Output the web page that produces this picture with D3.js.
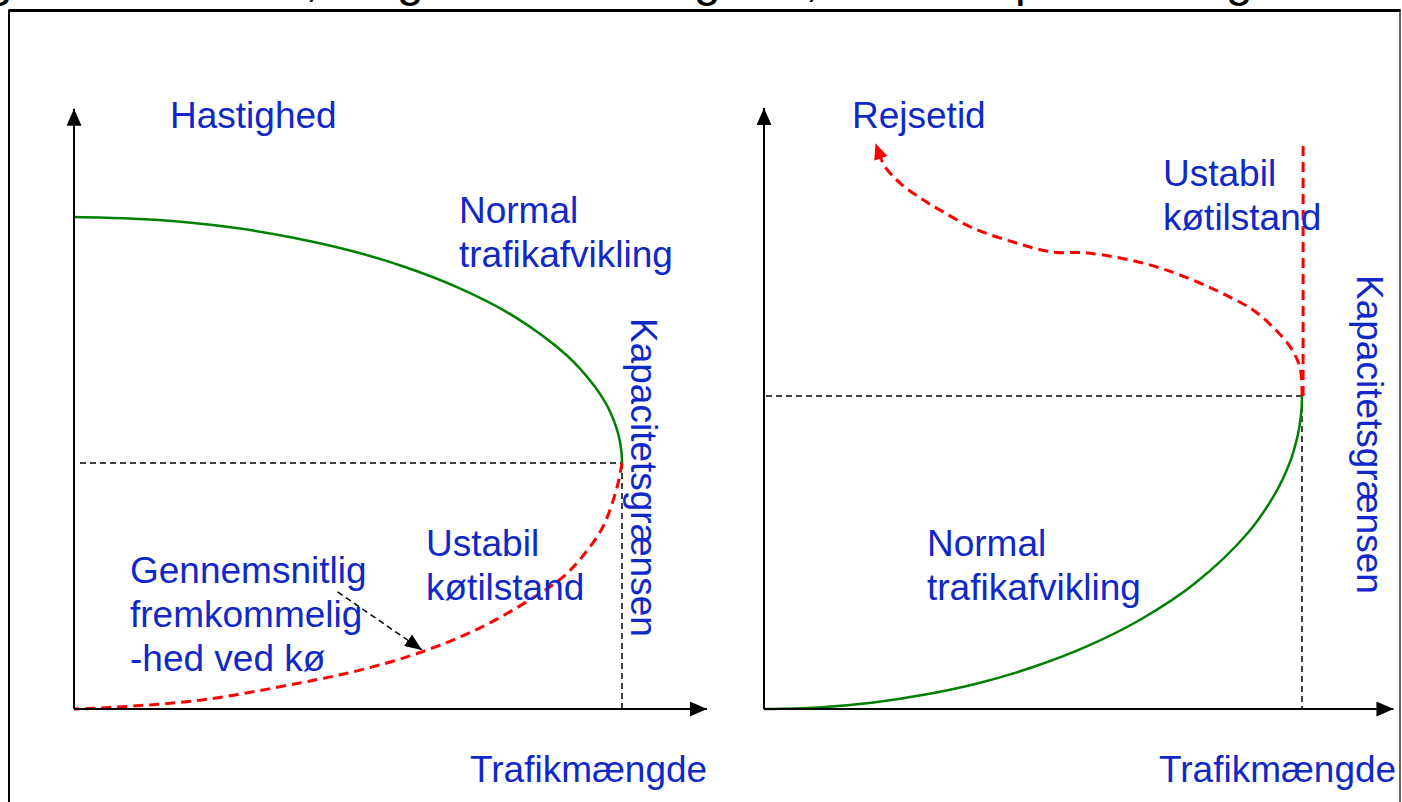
<!DOCTYPE html>
<html><head><meta charset="utf-8">
<script src="https://cdn.jsdelivr.net/npm/d3@7"></script>
<style>html,body{margin:0;padding:0;background:#fff;overflow:hidden}</style>
</head><body>
<script>
// ---------- DATA ----------
// Left panel: speed (Hastighed) vs traffic volume (Trafikmængde); capacity at x=100
const leftNormal = [[0,100],[10,99.7],[20,99],[30,97.7],[40,95.8],[50,93.3],[60,90],[70,85.7],[80,80],[90,71.8],[95,65.6],[97,62.2],[98,60],[99,57.1],[99.5,55],[99.9,52.2],[100,50]];
const leftQueue = [[100,50],[99.1,45.1],[96.5,37],[92.7,30.9],[89.2,26.8],[83.2,22.2],[74.1,16.5],[63.5,11.6],[52.2,7.9],[41.2,5.3],[23,1.8],[4.7,0.2],[0,0]];
const leftCapacity = [100, 50];
const leftAxisMax = [115.5, 122];
const leftAnnotation = [[48.1, 23.8],[63.5, 12]];
// Right panel: travel time (Rejsetid) vs traffic volume
const rightNormal = [[0,0],[10,0.5],[20,2],[30,4.6],[40,8.3],[50,13.4],[60,20],[70,28.6],[80,40],[90,56.4],[95,68.8],[97,75.7],[98,80],[99,85.9],[99.5,90],[99.9,95.5],[100,100]];
const rightUnstable = [[100,100],[100,101.9],[99.6,109.3],[97.8,115.7],[94.6,122],[90.9,127.5],[86.6,131.6],[81,136.1],[71.7,141.9],[60.2,145.7],[53.7,146],[46.3,149.2],[38.8,153.7],[32.7,159.4],[29,163.3],[25.3,168],[22.5,173.2],[21.6,176.5]];
const rightVertical = [[100.2,100],[100.2,181]];
const rightCapacity = [100, 100];
const rightAxisMax = [117, 192];
// Texts
const titleGlyphs = ["g", ",", "g", "g", ",", "p", "g"];
const labelAxisY = ["Hastighed", "Rejsetid"];
const labelAxisX = "Trafikmængde";
const labelNormal = ["Normal", "trafikafvikling"];
const labelUnstable = ["Ustabil", "køtilstand"];
const labelAverage = ["Gennemsnitlig", "fremkommelig", "-hed ved kø"];
const labelCapacity = "Kapacitetsgrænsen";

// ---------- DRAW ----------
const W = 1402, H = 802;
const BLUE = "#1028c8", GREEN = "#008000", RED = "#ff0000";
const FS = 37;
const svg = d3.select("body").append("svg").attr("width", W).attr("height", H)
  .style("font-family", "'Liberation Sans', Arial, sans-serif");

const defs = svg.append("defs");
function marker(id, color, len, wid, ref) {
  defs.append("marker").attr("id", id).attr("viewBox", `0 0 ${len} ${wid}`)
    .attr("refX", ref).attr("refY", wid/2).attr("markerWidth", len).attr("markerHeight", wid)
    .attr("markerUnits", "userSpaceOnUse").attr("orient", "auto")
    .append("path").attr("d", `M0,0L${len},${wid/2}L0,${wid}Z`).attr("fill", color);
}
marker("axArrow", "#000", 17, 15, 17);
marker("blkArrow", "#000", 17, 14, 17);
marker("redArrow", RED, 16, 14, 2);

// title fragments (clipped at top, as in the reference)
const titleX = [-14, 305, 397, 694, 805, 1015, 1226];
svg.append("g").selectAll("text").data(titleGlyphs).join("text")
  .attr("x", (d,i) => titleX[i]).attr("y", -4)
  .attr("font-size", 48).attr("fill", "#000").text(d => d);

// frame
svg.append("rect").attr("x", 9).attr("y", 10.5).attr("width", 1391).attr("height", 820)
  .attr("fill", "none").attr("stroke", "#000").attr("stroke-width", 2);
svg.append("line").attr("x1", 1400).attr("x2", 1400).attr("y1", 11).attr("y2", H)
  .attr("stroke", "#888").attr("stroke-width", 1.5);
svg.append("line").attr("x1", 9).attr("x2", 1400).attr("y1", 10.5).attr("y2", 10.5)
  .attr("stroke", "#000").attr("stroke-width", 3);

function panel(cfg) {
  const x = d3.scaleLinear().domain([0, 100]).range(cfg.xr);
  const y = d3.scaleLinear().domain([0, cfg.ymaxRef]).range(cfg.yr);
  const g = svg.append("g");
  const line = d3.line().x(d => x(d[0])).y(d => y(d[1])).curve(d3.curveCatmullRom.alpha(0.5));
  g.append("line").attr("x1", x(0) + cfg.hStart).attr("x2", x(cfg.cap[0]))
    .attr("y1", y(cfg.cap[1])).attr("y2", y(cfg.cap[1]))
    .attr("stroke", "#000").attr("stroke-width", 1.5).attr("stroke-dasharray", "6,4");
  g.append("line").attr("x1", x(cfg.cap[0])).attr("x2", x(cfg.cap[0]))
    .attr("y1", y(cfg.cap[1])).attr("y2", y(0))
    .attr("stroke", "#000").attr("stroke-width", 1.5).attr("stroke-dasharray", "6,4");
  g.append("path").attr("d", line(cfg.green)).attr("fill", "none")
    .attr("stroke", GREEN).attr("stroke-width", 2.5);
  g.append("path").attr("d", line(cfg.red)).attr("fill", "none")
    .attr("stroke", RED).attr("stroke-width", 3).attr("stroke-dasharray", "10,6")
    .attr("marker-end", cfg.redArrow ? "url(#redArrow)" : null);
  if (cfg.redV) {
    g.append("path").attr("d", d3.line().x(d => x(d[0])).y(d => y(d[1]))(cfg.redV))
      .attr("fill", "none").attr("stroke", RED).attr("stroke-width", 3).attr("stroke-dasharray", "10,6");
  }
  g.append("line").attr("x1", x(0)).attr("x2", x(cfg.axMax[0])).attr("y1", y(0)).attr("y2", y(0))
    .attr("stroke", "#000").attr("stroke-width", 2).attr("marker-end", "url(#axArrow)");
  g.append("line").attr("x1", x(0)).attr("x2", x(0)).attr("y1", y(0)).attr("y2", y(cfg.axMax[1]))
    .attr("stroke", "#000").attr("stroke-width", 2).attr("marker-end", "url(#axArrow)");
  if (cfg.annot) {
    g.append("line").attr("x1", x(cfg.annot[0][0])).attr("y1", y(cfg.annot[0][1]))
      .attr("x2", x(cfg.annot[1][0])).attr("y2", y(cfg.annot[1][1]))
      .attr("stroke", "#000").attr("stroke-width", 1.5).attr("stroke-dasharray", "6,4")
      .attr("marker-end", "url(#blkArrow)");
  }
  return {x, y, g};
}

panel({xr: [74, 622], yr: [709, 217], ymaxRef: 100, cap: leftCapacity,
  axMax: leftAxisMax, green: leftNormal, red: leftQueue, hStart: 6, annot: leftAnnotation});
panel({xr: [764, 1302], yr: [709, 396], ymaxRef: 100, cap: rightCapacity,
  axMax: rightAxisMax, green: rightNormal, red: rightUnstable, hStart: 2, redArrow: true, redV: rightVertical});

function lines(lbls, x0, y0, lh) {
  svg.append("g").selectAll("text").data(lbls).join("text")
    .attr("x", x0).attr("y", (d,i) => y0 + i*lh)
    .attr("font-size", FS).attr("fill", BLUE).text(d => d);
}
lines([labelAxisY[0]], 170, 128, 0);
lines([labelAxisY[1]], 852, 128, 0);
lines(labelNormal, 459, 223, 44);
lines(labelUnstable, 426, 556, 44);
lines(labelAverage, 130, 583, 44);
lines(labelNormal, 927, 556, 44);
lines(labelUnstable, 1163, 186, 44);
lines([labelAxisX], 470, 782, 0);
lines([labelAxisX], 1159, 782, 0);

[[631, 318], [1357, 275]].forEach(p => {
  svg.append("text").attr("transform", `translate(${p[0]},${p[1]}) rotate(90)`)
    .attr("font-size", FS).attr("fill", BLUE).text(labelCapacity);
});
</script>
</body></html>
